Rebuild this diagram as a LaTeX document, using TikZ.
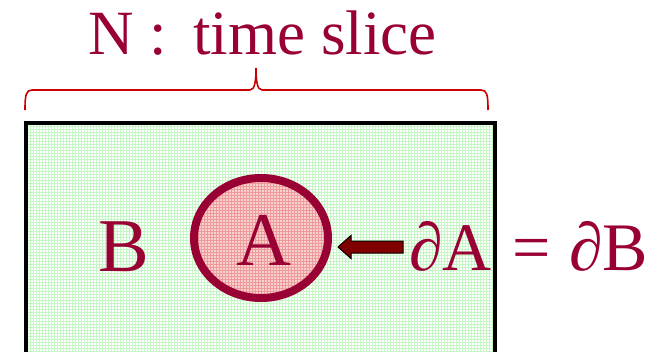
\documentclass[tikz,border=0pt]{standalone}
\usepackage{fontspec}
\setmainfont{Liberation Serif}
\usetikzlibrary{patterns}
\definecolor{wine}{HTML}{990033}
\definecolor{bracered}{HTML}{CC0000}
\definecolor{arrowred}{HTML}{800000}
\definecolor{gridgreen}{HTML}{C6F6C6}
\definecolor{pinkfill}{HTML}{F9D0D0}
\definecolor{pinkgrid}{HTML}{EE9A9A}
\begin{document}
\begin{tikzpicture}[x=1pt,y=-1pt,
  lbl/.style={text=wine, inner sep=0pt, anchor=base west},
  big/.style={font=\fontsize{76}{76}\selectfont},
  mid/.style={font=\fontsize{63}{63}\selectfont},
  eqf/.style={font=\fontsize{68}{68}\selectfont}]
\useasboundingbox (0,0) rectangle (653,351);
\clip (0,0) rectangle (653,351);
% slice rectangle
\fill[white] (26,123) rectangle (495,360);
\path[pattern=grid, pattern color=gridgreen] (26,123) rectangle (495,360);
% brace
\draw[bracered, line width=1.6pt] (25,110) .. controls (25,95) and (26,90) .. (32,90) -- (250,90)
  .. controls (255,90) and (256,80) .. (256,68) .. controls (256,80) and (257,90) .. (262,90)
  -- (481,90) .. controls (487,90) and (488,95) .. (488,110);
% region A
\fill[pinkfill] (261,238) ellipse [x radius=67, y radius=60];
\path[pattern=grid, pattern color=pinkgrid] (261,238) ellipse [x radius=67, y radius=60];
\draw[wine, line width=8pt] (261,238) ellipse [x radius=67, y radius=60];
% arrow
\draw[fill=arrowred, draw=black, line width=1pt, line join=miter]
  (338,247) -- (351,235.5) -- (351,241) -- (403,241) -- (403,253) -- (351,253) -- (351,258.5) -- cycle;
% texts
\node[lbl, mid] (title) at (88,54) {N :\hspace{0.42em}time slice};
\node[lbl, big, anchor=base] (A) at (263.5,265) {A};
\node[lbl, big, anchor=base] (B) at (124,271) {B};
\node[lbl, eqf] (eq) at (409,270) {∂A\hspace{0.3em}=\hspace{0.27em}∂B};
% rectangle border on top
\draw[black, line width=4pt] (26,360) -- (26,123) -- (495,123) -- (495,360);
\end{tikzpicture}
\end{document}
